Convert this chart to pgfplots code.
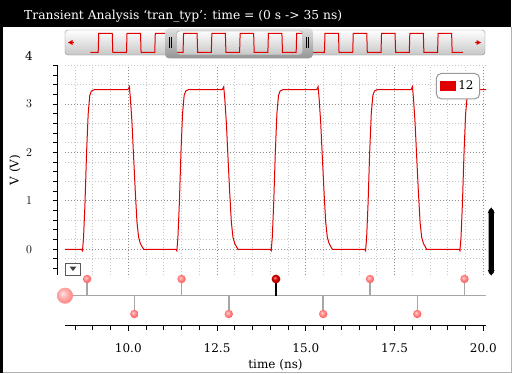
\documentclass[border=0pt]{standalone}
\usepackage{fontspec}
\setmainfont{DejaVu Serif}
\usepackage{pgfplots}
\pgfplotsset{compat=1.18}
\definecolor{wred}{RGB}{224,0,0}
\newcommand{\tfont}{\fontsize{12}{14}\selectfont}
\newcommand{\titlefont}{\fontsize{12.3}{14}\selectfont}
\pgfdeclareradialshading{pinkball}{\pgfpoint{-8bp}{8bp}}{color(0bp)=(red!15!white); color(10bp)=(red!40!white); color(30bp)=(red!70!white); color(50bp)=(red!80!black)}
\pgfdeclareradialshading{bigball}{\pgfpoint{-8bp}{8bp}}{color(0bp)=(red!10!white); color(12bp)=(red!30!white); color(35bp)=(red!55!white); color(50bp)=(red!85!black)}
\pgfdeclareradialshading{darkball}{\pgfpoint{-8bp}{8bp}}{color(0bp)=(red!40!white); color(12bp)=(red!80!black); color(50bp)=(red!50!black)}
\pgfdeclareplotmark{pball}{\pgfpathcircle{\pgfpointorigin}{\pgfplotmarksize}\pgfshadepath{pinkball}{0}\pgfusepath{}}
\pgfdeclareplotmark{bball}{\pgfpathcircle{\pgfpointorigin}{\pgfplotmarksize}\pgfshadepath{bigball}{0}\pgfusepath{}}
\pgfdeclareplotmark{dball}{\pgfpathcircle{\pgfpointorigin}{\pgfplotmarksize}\pgfshadepath{darkball}{0}\pgfusepath{}}
\begin{document}
\begin{tikzpicture}[x=1pt,y=1pt]
\useasboundingbox (0,0) rectangle (516,-373);
\fill[white] (0,0) rectangle (516,-373);
\fill[black] (0,0) rectangle (510.5,-27);
\fill[black] (0,0) rectangle (2.7,-373);
\draw[black!30, line width=1pt] (511.5,-27) -- (511.5,-373);
\draw[black!30, line width=1pt] (2.7,-372) -- (511.5,-372);
\node[anchor=west, text=white, font=\titlefont, inner sep=0pt] at (24,-16) {Transient Analysis ‘tran\_typ’: time = (0 s -> 35 ns)};
% scroll bar background
\shade[top color=white, bottom color=black!22, rounded corners=3pt, draw=black!45] (65,-30) rectangle (485,-55);
\fill[wred] (68,-42.5)--(72.5,-40)--(72.5,-45)--cycle;
\draw[wred, line width=1pt] (72,-42.5)--(74,-42.5);
\fill[wred] (481,-42.5)--(476.5,-40)--(476.5,-45)--cycle;
\draw[wred, line width=1pt] (477,-42.5)--(475,-42.5);
% mini overview waveform
\begin{axis}[at={(89.3pt,-52.3pt)}, anchor=south west, scale only axis, width=372.4pt, height=19pt,
  xmin=-0.1, xmax=34.9, ymin=0, ymax=1, hide axis, clip=false]
\addplot[wred, line width=1pt] coordinates {(0,0) (0.736,0) (0.786,1) (2.056,1) (2.106,0) (3.394,0) (3.444,1) (4.714,1) (4.764,0) (6.052,0) (6.102,1) (7.372,1) (7.422,0) (8.71,0) (8.76,1) (10.03,1) (10.08,0) (11.368,0) (11.418,1) (12.688,1) (12.738,0) (14.026,0) (14.076,1) (15.346,1) (15.396,0) (16.684,0) (16.734,1) (18.004,1) (18.054,0) (19.342,0) (19.392,1) (20.662,1) (20.712,0) (22.0,0) (22.05,1) (23.32,1) (23.37,0) (24.658,0) (24.708,1) (25.978,1) (26.028,0) (27.316,0) (27.366,1) (28.636,1) (28.686,0) (29.974,0) (30.024,1) (31.294,1) (31.344,0) (32.632,0) (32.682,1) (33.952,1) (34.002,0) (35,0)};
\end{axis}
% thumb
\shade[top color=black!12, bottom color=black!42, even odd rule, rounded corners=4pt] (165,-28.3) rectangle (313,-58.3) (176.7,-31) rectangle (302.7,-55);
\draw[black!35, rounded corners=2pt] (176.7,-31) rectangle (302.7,-55);
\draw[black, line width=0.8pt] (169.3,-37)--(169.3,-48) (171.7,-37)--(171.7,-48) (306.3,-37)--(306.3,-48) (308.7,-37)--(308.7,-48);
% main plot
\begin{axis}[at={(65pt,-275pt)}, anchor=south west, scale only axis, width=421pt, height=210pt,
  xmin=8.217, xmax=20.076, ymin=-0.531, ymax=3.808,
  axis line style={draw=none}, major tick length=0pt, minor tick length=0pt,
  xtick={10,12.5,15,17.5,20}, minor xtick={8.5,9,...,19.5},
  ytick={0,1,2,3}, minor ytick={-0.2,0.2,...,3.8},
  xticklabels={}, yticklabels={},
  xmajorgrids, xminorgrids, ymajorgrids, yminorgrids,
  major grid style={draw=black!45, line width=1pt, dash pattern=on 1pt off 2pt},
  minor grid style={draw=black!22, line width=1pt, dash pattern=on 1pt off 2pt},
  legend style={at={(0.986,0.962)}, anchor=north east, draw=black!40, line width=1pt, rounded corners=5pt, fill=white, font=\tfont, inner xsep=4pt, inner ysep=5.5pt},
  legend image code/.code={\fill[wred, sharp corners] (0pt,-4.5pt) rectangle (15pt,4.5pt);},
  legend cell align=left]
\addplot[wred, line width=1pt] coordinates {(8.217,0) (8.68,0) (8.71,-0.03) (8.74,0.25) (8.78,0.95) (8.825,2.0) (8.87,2.8) (8.915,3.18) (8.96,3.27) (9.04,3.3)
(9.99,3.3) (10.03,3.36) (10.06,3.11) (10.105,2.6) (10.15,1.9) (10.2,1.15) (10.245,0.56) (10.29,0.25) (10.34,0.12) (10.43,0)
(11.338,0) (11.368,-0.03) (11.398,0.25) (11.438,0.95) (11.483,2.0) (11.528,2.8) (11.573,3.18) (11.618,3.27) (11.698,3.3)
(12.648,3.3) (12.688,3.36) (12.718,3.11) (12.763,2.6) (12.808,1.9) (12.858,1.15) (12.903,0.56) (12.948,0.25) (12.998,0.12) (13.088,0)
(13.996,0) (14.026,-0.03) (14.056,0.25) (14.096,0.95) (14.141,2.0) (14.186,2.8) (14.231,3.18) (14.276,3.27) (14.356,3.3)
(15.306,3.3) (15.346,3.36) (15.376,3.11) (15.421,2.6) (15.466,1.9) (15.516,1.15) (15.561,0.56) (15.606,0.25) (15.656,0.12) (15.746,0)
(16.654,0) (16.684,-0.03) (16.714,0.25) (16.754,0.95) (16.799,2.0) (16.844,2.8) (16.889,3.18) (16.934,3.27) (17.014,3.3)
(17.964,3.3) (18.004,3.36) (18.034,3.11) (18.079,2.6) (18.124,1.9) (18.174,1.15) (18.219,0.56) (18.264,0.25) (18.314,0.12) (18.404,0)
(19.312,0) (19.342,-0.03) (19.372,0.25) (19.412,0.95) (19.457,2.0) (19.502,2.8) (19.547,3.18) (19.592,3.27) (19.672,3.3)
(20.076,3.3)};
\addlegendentry{12}
\end{axis}
% y axis
\begin{axis}[at={(57pt,-275pt)}, anchor=south west, scale only axis, width=20pt, height=210pt,
  xmin=0, xmax=1, ymin=-0.531, ymax=3.808,
  axis y line*=left, axis x line=none,
  ytick={0,1,2,3}, minor ytick={-0.4,-0.2,...,3.8},
  tick align=outside, major tick length=4pt, minor tick length=4pt,
  tick style={black, line width=1pt}, y axis line style={line width=1pt},
  yticklabel style={font=\tfont, anchor=center, xshift=-24pt},
  ylabel={V (V)},
  every axis y label/.style={at={([xshift=-42pt]axis description cs:0,0.5)}, rotate=90, anchor=center, font=\tfont},
  clip=false]
\addplot[draw=none] coordinates {(0,0)};
\node[font=\tfont] at ([xshift=-28pt]axis cs:0,4) {4};
\end{axis}
% marker strip and time axis
\begin{axis}[at={(65pt,-325.7pt)}, anchor=south west, scale only axis, width=421pt, height=49.7pt,
  xmin=8.217, xmax=20.076, ymin=-30, ymax=19.7,
  axis x line*=bottom, axis y line=none,
  xtick={10,12.5,15,17.5,20}, minor xtick={8.5,9,...,19.5},
  tick align=outside, major tick length=5pt, minor tick length=4pt,
  tick style={black, line width=1pt}, x axis line style={line width=1pt},
  xticklabel style={font=\tfont, anchor=center, yshift=-17pt, /pgf/number format/.cd, fixed, fixed zerofill, precision=1, assume math mode=true},
  xlabel={time (ns)},
  every axis x label/.style={at={([yshift=-39.3pt]axis description cs:0.5,0)}, anchor=center, font=\tfont},
  clip=false]
\addplot[black!35, line width=1.5pt] coordinates {(8.217,0) (20.076,0)};
\addplot[black!35, line width=1.5pt] coordinates {(8.84,0) (8.84,16.7)};
\addplot[black!35, line width=1.5pt] coordinates {(11.50,0) (11.50,16.7)};
\addplot[black!35, line width=1.5pt] coordinates {(16.81,0) (16.81,16.7)};
\addplot[black!35, line width=1.5pt] coordinates {(19.47,0) (19.47,16.7)};
\addplot[black!35, line width=1.5pt] coordinates {(10.17,0) (10.17,-18.3)};
\addplot[black!35, line width=1.5pt] coordinates {(12.83,0) (12.83,-18.3)};
\addplot[black!35, line width=1.5pt] coordinates {(15.49,0) (15.49,-18.3)};
\addplot[black!35, line width=1.5pt] coordinates {(18.14,0) (18.14,-18.3)};
\addplot[black, line width=2pt] coordinates {(14.16,0) (14.16,16.7)};
\addplot[only marks, mark=pball, mark size=4.2pt] coordinates {(8.84,16.7) (11.50,16.7) (16.81,16.7) (19.47,16.7) (10.17,-18.3) (12.83,-18.3) (15.49,-18.3) (18.14,-18.3)};
\addplot[only marks, mark=dball, mark size=4.4pt] coordinates {(14.16,16.7)};
\addplot[only marks, mark=bball, mark size=8pt] coordinates {(8.217,0)};
\end{axis}
% dropdown icon
\draw[black!65, fill=white, line width=0.8pt] (65.5,-263.5) rectangle (80.5,-275.5);
\fill[black!75] (69.5,-266.5)--(76.5,-266.5)--(73,-271)--cycle;
% vertical scroll indicator
\fill[black, rounded corners=2pt] (488.6,-209) rectangle (493.8,-274);
\fill[black] (487.7,-213)--(491.2,-207.3)--(494.7,-213)--cycle;
\fill[black] (487.7,-270)--(491.2,-275.7)--(494.7,-270)--cycle;
\end{tikzpicture}
\end{document}
